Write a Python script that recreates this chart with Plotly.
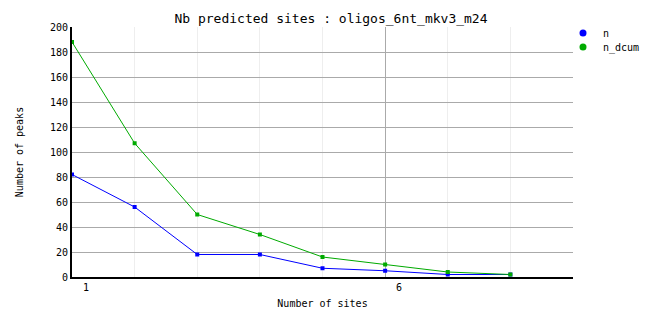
import plotly.graph_objects as go

sites = [1, 2, 3, 4, 5, 6, 7, 8]
n_vals = [82, 56, 18, 18, 7, 5, 2, 2]
n_dcum_vals = [188, 107, 50, 34, 16, 10, 4, 2]
x_tick_vals = [1, 6]
x_tick_text = ["1", "6"]

title_text = "Nb predicted sites : oligos_6nt_mkv3_m24"
x_title = "Number of sites"
y_title = "Number of peaks"

BLUE = "#0000ff"
GREEN = "#00aa00"
FONT = "DejaVu Sans Mono"

fig = go.Figure()
fig.add_trace(go.Scatter(x=sites, y=n_vals, mode="lines+markers", name="n",
                         line=dict(color=BLUE, width=1),
                         marker=dict(symbol="square", size=4, color=BLUE),
                         showlegend=False))
fig.add_trace(go.Scatter(x=sites, y=n_dcum_vals, mode="lines+markers", name="n_dcum",
                         line=dict(color=GREEN, width=1),
                         marker=dict(symbol="square", size=4, color=GREEN),
                         showlegend=False))
# legend entries
fig.add_trace(go.Scatter(x=[None], y=[None], mode="markers", name="n",
                         marker=dict(symbol="circle", size=7, color=BLUE), legend="legend"))
fig.add_trace(go.Scatter(x=[None], y=[None], mode="markers", name="n_dcum",
                         marker=dict(symbol="circle", size=7, color=GREEN), legend="legend2"))

legend_common = dict(xref="container", yref="container", xanchor="left", yanchor="middle",
                     font=dict(family=FONT, size=10), bgcolor="rgba(0,0,0,0)",
                     itemwidth=30)

fig.update_layout(
    width=662, height=328,
    margin=dict(l=72, r=89, t=27, b=51, autoexpand=False),
    paper_bgcolor="white", plot_bgcolor="white",
    font=dict(family=FONT, size=10, color="black"),
    title=dict(text=title_text, x=0.5, xanchor="center", y=1 - 18/328, yanchor="middle",
               font=dict(family=FONT, size=13, color="black")),
    legend=dict(x=563/662, y=1 - 33/328, **legend_common),
    legend2=dict(x=563/662, y=1 - 47/328, **legend_common),
    xaxis=dict(range=[1, 9], tickvals=x_tick_vals, ticktext=x_tick_text,
               showgrid=True, gridcolor="#aaaaaa", gridwidth=1,
               minor=dict(dtick=1, tick0=1, showgrid=True, gridcolor="#eeeeee", gridwidth=1),
               showline=True, linecolor="black", linewidth=2, zeroline=False,
               ticks="", ticklabelshift=14,
               title=dict(text=x_title, font=dict(family=FONT, size=10), standoff=8)),
    yaxis=dict(range=[0, 200], dtick=20, tick0=0,
               showgrid=True, gridcolor="#aaaaaa", gridwidth=1,
               showline=True, linecolor="black", linewidth=2, zeroline=False,
               ticks="",
               title=dict(text=y_title, font=dict(family=FONT, size=10), standoff=24)),
)

fig.write_html("out.html")
